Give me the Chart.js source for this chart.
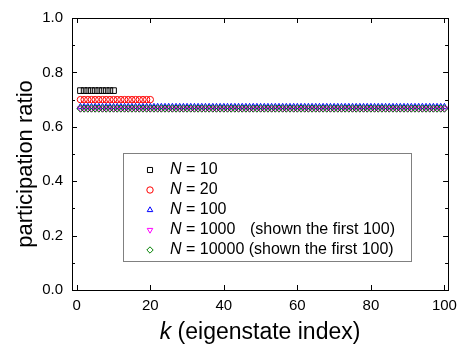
<!DOCTYPE html>
<html>
<head>
<meta charset="utf-8">
<script src="https://cdn.jsdelivr.net/npm/chart.js@4"></script>
<style>
  html, body { margin: 0; padding: 0; background: #fff; }
  #wrap { width: 464px; height: 353px; position: relative; }
</style>
</head>
<body>
<div id="wrap"><canvas id="prChart" width="464" height="353"></canvas></div>
<script>
// participation ratio per eigenstate k = 1, 2, ...
const prN10 = [
  0.733, 0.733, 0.733, 0.733, 0.733, 0.733, 0.733, 0.733, 0.733, 0.733
];
const prN20 = [
  0.700, 0.700, 0.700, 0.700, 0.700, 0.700, 0.700, 0.700, 0.700, 0.700,
  0.700, 0.700, 0.700, 0.700, 0.700, 0.700, 0.700, 0.700, 0.700, 0.700
];
const prN100 = [
  0.673, 0.673, 0.673, 0.673, 0.673, 0.673, 0.673, 0.673, 0.673, 0.673,
  0.673, 0.673, 0.673, 0.673, 0.673, 0.673, 0.673, 0.673, 0.673, 0.673,
  0.673, 0.673, 0.673, 0.673, 0.673, 0.673, 0.673, 0.673, 0.673, 0.673,
  0.673, 0.673, 0.673, 0.673, 0.673, 0.673, 0.673, 0.673, 0.673, 0.673,
  0.673, 0.673, 0.673, 0.673, 0.673, 0.673, 0.673, 0.673, 0.673, 0.673,
  0.673, 0.673, 0.673, 0.673, 0.673, 0.673, 0.673, 0.673, 0.673, 0.673,
  0.673, 0.673, 0.673, 0.673, 0.673, 0.673, 0.673, 0.673, 0.673, 0.673,
  0.673, 0.673, 0.673, 0.673, 0.673, 0.673, 0.673, 0.673, 0.673, 0.673,
  0.673, 0.673, 0.673, 0.673, 0.673, 0.673, 0.673, 0.673, 0.673, 0.673,
  0.673, 0.673, 0.673, 0.673, 0.673, 0.673, 0.673, 0.673, 0.673, 0.673
];
const prN1000 = [
  0.667, 0.667, 0.667, 0.667, 0.667, 0.667, 0.667, 0.667, 0.667, 0.667,
  0.667, 0.667, 0.667, 0.667, 0.667, 0.667, 0.667, 0.667, 0.667, 0.667,
  0.667, 0.667, 0.667, 0.667, 0.667, 0.667, 0.667, 0.667, 0.667, 0.667,
  0.667, 0.667, 0.667, 0.667, 0.667, 0.667, 0.667, 0.667, 0.667, 0.667,
  0.667, 0.667, 0.667, 0.667, 0.667, 0.667, 0.667, 0.667, 0.667, 0.667,
  0.667, 0.667, 0.667, 0.667, 0.667, 0.667, 0.667, 0.667, 0.667, 0.667,
  0.667, 0.667, 0.667, 0.667, 0.667, 0.667, 0.667, 0.667, 0.667, 0.667,
  0.667, 0.667, 0.667, 0.667, 0.667, 0.667, 0.667, 0.667, 0.667, 0.667,
  0.667, 0.667, 0.667, 0.667, 0.667, 0.667, 0.667, 0.667, 0.667, 0.667,
  0.667, 0.667, 0.667, 0.667, 0.667, 0.667, 0.667, 0.667, 0.667, 0.667
];
const prN10000 = [
  0.667, 0.667, 0.667, 0.667, 0.667, 0.667, 0.667, 0.667, 0.667, 0.667,
  0.667, 0.667, 0.667, 0.667, 0.667, 0.667, 0.667, 0.667, 0.667, 0.667,
  0.667, 0.667, 0.667, 0.667, 0.667, 0.667, 0.667, 0.667, 0.667, 0.667,
  0.667, 0.667, 0.667, 0.667, 0.667, 0.667, 0.667, 0.667, 0.667, 0.667,
  0.667, 0.667, 0.667, 0.667, 0.667, 0.667, 0.667, 0.667, 0.667, 0.667,
  0.667, 0.667, 0.667, 0.667, 0.667, 0.667, 0.667, 0.667, 0.667, 0.667,
  0.667, 0.667, 0.667, 0.667, 0.667, 0.667, 0.667, 0.667, 0.667, 0.667,
  0.667, 0.667, 0.667, 0.667, 0.667, 0.667, 0.667, 0.667, 0.667, 0.667,
  0.667, 0.667, 0.667, 0.667, 0.667, 0.667, 0.667, 0.667, 0.667, 0.667,
  0.667, 0.667, 0.667, 0.667, 0.667, 0.667, 0.667, 0.667, 0.667, 0.667
];

const seriesN = ["10", "20", "100", "1000", "10000"];
const seriesNote = ["", "", "", "(shown the first 100)", "(shown the first 100)"];
const xTicks = [0, 20, 40, 60, 80, 100];
const yTicks = [0.0, 0.2, 0.4, 0.6, 0.8, 1.0];
const yMinorTicks = [0.1, 0.3, 0.5, 0.7, 0.9];

const FONT = "'Liberation Sans', Arial, sans-serif";

const styles = [
  { color: "#000000", pointStyle: "rect", rotation: 0, radius: 4 },
  { color: "#ff0000", pointStyle: "circle", rotation: 0, radius: 3.2 },
  { color: "#0000ff", pointStyle: "triangle", rotation: 0, radius: 3.6 },
  { color: "#ff00ff", pointStyle: "triangle", rotation: 180, radius: 3.6 },
  { color: "#008000", pointStyle: "rectRot", rotation: 0, radius: 3.6 }
];

function toPoints(values) {
  return values.map((v, i) => ({ x: i + 1, y: v }));
}

const allSeries = [prN10, prN20, prN100, prN1000, prN10000];

const datasets = allSeries.map((vals, i) => ({
  label: "N = " + seriesN[i],
  data: toPoints(vals),
  showLine: false,
  pointStyle: styles[i].pointStyle,
  rotation: styles[i].rotation,
  pointRadius: styles[i].radius,
  pointBorderWidth: 1,
  borderColor: styles[i].color,
  backgroundColor: "rgba(0,0,0,0)",
  order: 4 - i
}));

////////////////////////////////
// Frame, inward ticks, titles, legend box
////////////////////////////////
const decorPlugin = {
  id: "decor",
  afterDraw(chart) {
    const ctx = chart.ctx;
    const a = chart.chartArea;
    const xs = chart.scales.x;
    const ys = chart.scales.y;
    ctx.save();

    // frame
    ctx.strokeStyle = "#000";
    ctx.lineWidth = 1;
    ctx.strokeRect(Math.round(a.left) + 0.5, Math.round(a.top) + 0.5,
                   Math.round(a.right - a.left), Math.round(a.bottom - a.top));

    // ticks (inward, mirrored)
    ctx.beginPath();
    xTicks.forEach(v => {
      const px = Math.round(xs.getPixelForValue(v)) + 0.5;
      ctx.moveTo(px, a.bottom); ctx.lineTo(px, a.bottom - 5);
      ctx.moveTo(px, a.top); ctx.lineTo(px, a.top + 5);
    });
    yTicks.forEach(v => {
      const py = Math.round(ys.getPixelForValue(v)) + 0.5;
      ctx.moveTo(a.left, py); ctx.lineTo(a.left + 5, py);
      ctx.moveTo(a.right, py); ctx.lineTo(a.right - 5, py);
    });
    yMinorTicks.forEach(v => {
      const py = Math.round(ys.getPixelForValue(v)) + 0.5;
      ctx.moveTo(a.left, py); ctx.lineTo(a.left + 3, py);
      ctx.moveTo(a.right, py); ctx.lineTo(a.right - 3, py);
    });
    ctx.stroke();

    // y title
    ctx.fillStyle = "#000";
    ctx.font = "22px " + FONT;
    ctx.textAlign = "center";
    ctx.textBaseline = "middle";
    ctx.save();
    ctx.translate(26, 164);
    ctx.rotate(-Math.PI / 2);
    ctx.fillText("participation ratio", 0, 0);
    ctx.restore();

    // x title: italic k + rest
    ctx.textBaseline = "alphabetic";
    ctx.textAlign = "left";
    const part1 = "k";
    const part2 = " (eigenstate index)";
    ctx.font = "italic 23px " + FONT;
    const w1 = ctx.measureText(part1).width;
    ctx.font = "23px " + FONT;
    const w2 = ctx.measureText(part2).width;
    const cx = (a.left + a.right) / 2;
    const x0 = cx - (w1 + w2) / 2;
    ctx.font = "italic 23px " + FONT;
    ctx.fillText(part1, x0, 339);
    ctx.font = "23px " + FONT;
    ctx.fillText(part2, x0 + w1, 339);

    // legend
    ctx.strokeStyle = "#808080";
    ctx.lineWidth = 1;
    ctx.strokeRect(123.5, 153.5, 288, 108);
    ctx.textBaseline = "middle";
    seriesN.forEach((n, i) => {
      const y = 170 + i * 20;
      ctx.strokeStyle = styles[i].color;
      ctx.fillStyle = "rgba(0,0,0,0)";
      ctx.lineWidth = 1;
      Chart.helpers.drawPoint(ctx, {
        pointStyle: styles[i].pointStyle,
        rotation: styles[i].rotation,
        radius: i === 0 ? 3.6 : 3.2,
        borderWidth: 1
      }, 150, y);
      ctx.fillStyle = "#000";
      ctx.font = "italic 16px " + FONT;
      ctx.fillText("N", 170, y);
      const wn = ctx.measureText("N").width;
      ctx.font = "16px " + FONT;
      const rest = " = " + n;
      ctx.fillText(rest, 170 + wn, y);
      if (seriesNote[i]) {
        const wr = ctx.measureText(rest + " ").width;
        const nx = i === 3 ? 250 : 170 + wn + wr;
        ctx.fillText(seriesNote[i], nx, y);
      }
    });
    ctx.restore();
  }
};

new Chart(document.getElementById("prChart"), {
  type: "scatter",
  data: { datasets: datasets },
  options: {
    responsive: false,
    animation: false,
    layout: { padding: { top: 10, right: 8, left: 0, bottom: 0 } },
    plugins: {
      legend: { display: false },
      tooltip: { enabled: false }
    },
    scales: {
      x: {
        type: "linear",
        min: -1.3,
        max: 101,
        afterBuildTicks: s => { s.ticks = xTicks.map(v => ({ value: v })); },
        afterFit: s => { s.height = 63; },
        grid: { display: false, drawTicks: false },
        border: { display: false },
        ticks: {
          padding: 7,
          color: "#000",
          font: { family: FONT, size: 15 },
          maxRotation: 0
        }
      },
      y: {
        type: "linear",
        min: 0,
        max: 1.0,
        afterBuildTicks: s => { s.ticks = yTicks.map(v => ({ value: v })); },
        afterFit: s => { s.width = 72; },
        grid: { display: false, drawTicks: false },
        border: { display: false },
        ticks: {
          padding: 9,
          color: "#000",
          font: { family: FONT, size: 15 },
          callback: v => Number(v).toFixed(1)
        }
      }
    }
  },
  plugins: [decorPlugin]
});
</script>
</body>
</html>
